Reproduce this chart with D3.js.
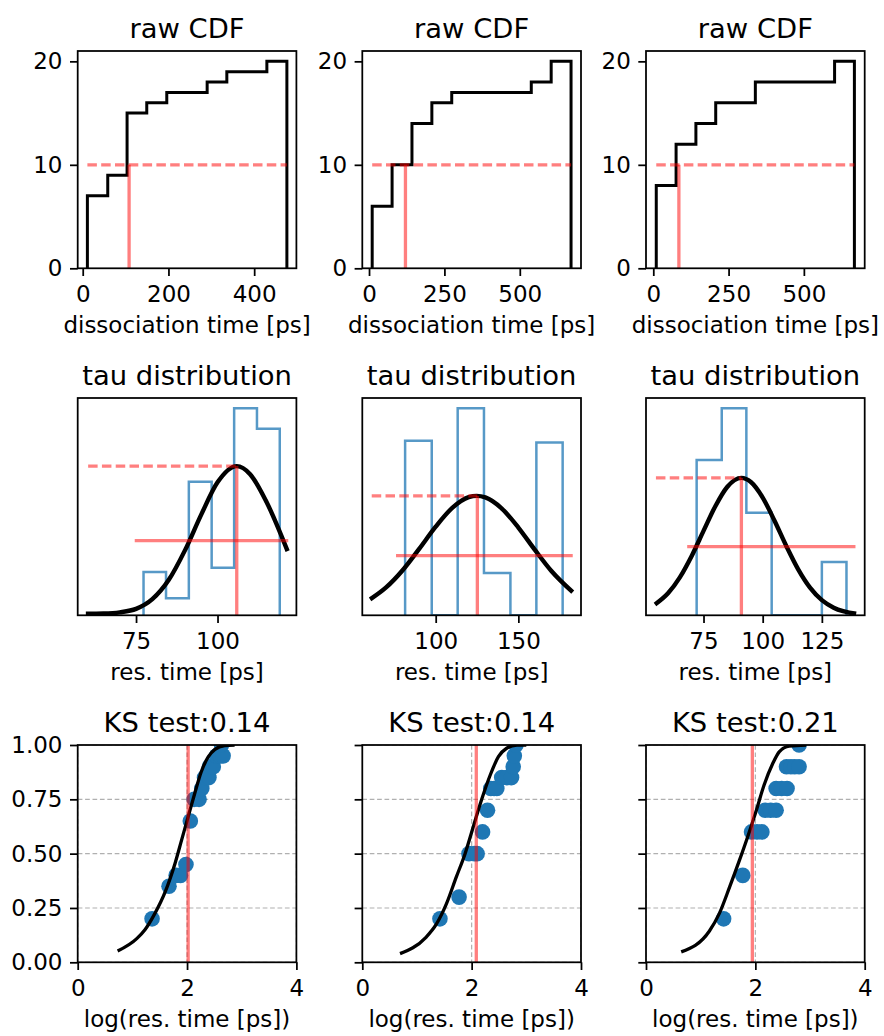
<!DOCTYPE html>
<html>
<head>
<meta charset="utf-8">
<script src="https://cdn.jsdelivr.net/npm/d3@7"></script>
<style>
  body { margin: 0; background: #fff; }
  svg { display: block; font-family: "DejaVu Sans", sans-serif; }
</style>
</head>
<body>
<svg id="chart" width="884" height="1036"></svg>
<script>
// ---- row 1: raw CDF (cumulative step histograms) ----
const cdfEdges = [
  [10.9, 58.4, 103.5, 149.4, 196.1, 242.8, 290.3, 336.2, 382.9, 429.6, 476.3],
  [10.5, 76.5, 142.4, 208.4, 274.3, 340.3, 406.2, 472.2, 538.1, 604.1, 670.0],
  [9.9, 75.7, 141.5, 207.3, 273.1, 338.9, 404.6, 470.4, 536.2, 602.0, 667.8]
];
const cdfCounts = [
  [7, 9, 15, 16, 17, 17, 18, 19, 19, 20],
  [6, 10, 14, 16, 17, 17, 17, 17, 18, 20],
  [8, 12, 14, 16, 16, 18, 18, 18, 18, 20]
];
const cdfMedian = [108.2, 120.8, 85.0];
const cdfHalf = 10;
const cdfXDomain = [[-11.7, 498.5], [-22.3, 703], [-24.2, 702]];
const cdfXTicks = [[0, 200, 400], [0, 250, 500], [0, 250, 500]];
const cdfYTicks = [0, 10, 20];

// ---- row 2: tau distribution (heights relative to fitted peak) ----
const tauEdges = [
  [77.3, 84.2, 91.2, 98.2, 105.1, 112.1, 119.1],
  [81.5, 97.6, 113.3, 129.2, 145.2, 160.9, 176.8],
  [72.1, 82.7, 93.1, 103.8, 114.3, 125.0, 135.4]
];
const tauHeights = [
  [0.291, 0.114, 0.895, 0.318, 1.387, 1.251],
  [1.462, 0, 1.733, 0.354, 0, 1.446],
  [1.131, 1.506, 0.746, 0, 0, 0.387]
];
const tauCurveX = [
  [59.6, 65, 70, 75, 80, 85, 90, 95, 100, 105.9, 110, 115, 121.5],
  [60.3, 70, 80, 90, 100, 110, 120, 124.8, 130, 140, 150, 160, 170, 182.9],
  [54.5, 60, 65, 70, 75, 80, 85, 91, 95, 100, 105, 110, 115, 120, 125, 130, 139.5]
];
const tauCurveY = [
  [0.01, 0.012, 0.02, 0.043, 0.108, 0.236, 0.435, 0.675, 0.891, 1.0, 0.946, 0.761, 0.43],
  [0.133, 0.233, 0.377, 0.556, 0.742, 0.899, 0.989, 1.0, 0.987, 0.894, 0.735, 0.548, 0.371, 0.194],
  [0.079, 0.16, 0.276, 0.432, 0.614, 0.794, 0.934, 1.0, 0.97, 0.857, 0.688, 0.503, 0.334, 0.201, 0.11, 0.055, 0.011]
];
const tauMean = [105.9, 125.2, 91.0];
const tauPeak = [1.0, 1.0, 1.0];
const tauDashStart = [60.3, 61.3, 54.9];
const tauHalfLine = [[74.6, 121.7], [76.0, 182.9], [68.1, 139.2]];
const tauHalfY = [0.5, 0.5, 0.5];
const tauXDomain = [[57.1, 124.2], [55.6, 187.9], [50.7, 143.1]];
const tauXTicks = [[75, 100], [100, 150], [75, 100, 125]];

// ---- row 3: KS test (empirical vs fitted CDF) ----
const ksTitles = ['KS test:0.14', 'KS test:0.14', 'KS test:0.21'];
const ksPointsX = [
  [1.36, 1.67, 1.80, 1.88, 1.98, 2.06, 2.13, 2.22, 2.27, 2.32, 2.40, 2.41, 2.48, 2.54, 2.61, 2.66, 2.63],
  [1.42, 1.77, 1.95, 2.05, 2.10, 2.20, 2.29, 2.35, 2.41, 2.46, 2.55, 2.64, 2.73, 2.76, 2.78, 2.81],
  [1.42, 1.77, 1.93, 2.03, 2.12, 2.18, 2.28, 2.38, 2.38, 2.48, 2.58, 2.57, 2.65, 2.72, 2.80, 2.80]
];
const ksPointsY = [
  [0.20, 0.35, 0.40, 0.40, 0.45, 0.65, 0.75, 0.75, 0.80, 0.85, 0.85, 0.90, 0.90, 0.95, 0.95, 0.95, 1.00],
  [0.20, 0.30, 0.50, 0.50, 0.50, 0.60, 0.70, 0.80, 0.80, 0.80, 0.85, 0.85, 0.85, 0.90, 0.95, 1.00],
  [0.20, 0.40, 0.60, 0.60, 0.60, 0.70, 0.70, 0.70, 0.80, 0.80, 0.80, 0.90, 0.90, 0.90, 0.90, 1.00]
];
const ksCurveX = [
  [0.73, 1.08, 1.23, 1.41, 1.60, 1.78, 1.90, 2.02, 2.14, 2.26, 2.39, 2.51, 2.69, 2.87],
  [0.69, 1.16, 1.36, 1.54, 1.72, 1.88, 2.03, 2.18, 2.34, 2.49, 2.64, 2.83, 3.0],
  [0.644, 1.16, 1.34, 1.53, 1.71, 1.86, 2.01, 2.16, 2.32, 2.44, 2.62, 2.93]
];
const ksCurveY = [
  [0.052, 0.109, 0.15, 0.224, 0.324, 0.455, 0.562, 0.67, 0.777, 0.877, 0.946, 0.98, 0.997, 1.0],
  [0.04, 0.114, 0.178, 0.27, 0.393, 0.5, 0.624, 0.747, 0.862, 0.946, 0.985, 1.0, 1.0],
  [0.048, 0.144, 0.224, 0.347, 0.47, 0.578, 0.693, 0.816, 0.916, 0.97, 0.995, 1.0]
];
const ksRed = [2.02, 2.085, 1.945];
const ksXTicks = [0, 2, 4];
const ksYTicks = [0, 0.25, 0.5, 0.75, 1];

// layout (matplotlib-like 3x3 grid)
const colX = [77.7, 362.3, 646];
const rowTop = [51, 398, 745];
const axW = 218.7, axH = 217.3;
const FONT = 23, TITLE_FONT = 27.4, LW = 1.76;
const RED = 'red', BLUE = '#1f77b4';

const svg = d3.select('#chart');
svg.append('rect').attr('width', 884).attr('height', 1036).attr('fill', '#fff');

function makePanel(row, col, xDomain, yDomain) {
  const id = `clip-${row}-${col}`;
  const x = d3.scaleLinear().domain(xDomain).range([0, axW]);
  const y = d3.scaleLinear().domain(yDomain).range([axH, 0]);
  const g = svg.append('g').attr('transform', `translate(${colX[col]},${rowTop[row]})`);
  g.append('clipPath').attr('id', id).append('rect').attr('width', axW).attr('height', axH);
  const plot = g.append('g').attr('clip-path', `url(#${id})`);
  return { g, plot, x, y };
}

function styleAxis(ax) {
  ax.attr('font-family', '"DejaVu Sans", sans-serif');
  ax.select('.domain').remove();
  ax.selectAll('line').attr('stroke', '#000').attr('stroke-width', LW);
  ax.selectAll('text').attr('font-size', FONT).attr('fill', '#000');
}

function xAxis(p, ticks, fmt, label) {
  const ax = p.g.append('g').attr('transform', `translate(0,${axH})`)
    .call(d3.axisBottom(p.x).tickValues(ticks).tickSize(7.7).tickPadding(9.7).tickFormat(fmt));
  styleAxis(ax);
  p.g.append('text')
    .attr('x', axW / 2).attr('y', axH + 65)
    .attr('text-anchor', 'middle').attr('font-size', FONT)
    .text(label);
}

function yAxis(p, ticks, fmt) {
  const ax = p.g.append('g')
    .call(d3.axisLeft(p.y).tickValues(ticks).tickSize(7.7).tickPadding(7.5).tickFormat(fmt));
  styleAxis(ax);
}

function frame(p, title) {
  p.g.append('rect').attr('width', axW).attr('height', axH)
    .attr('fill', 'none').attr('stroke', '#000').attr('stroke-width', LW);
  p.g.append('text')
    .attr('x', axW / 2).attr('y', -13)
    .attr('text-anchor', 'middle').attr('font-size', TITLE_FONT)
    .text(title);
}

// step outline like matplotlib histtype='step'
function stepPoints(edges, heights) {
  const pts = [[edges[0], 0]];
  heights.forEach((h, i) => { pts.push([edges[i], h]); pts.push([edges[i + 1], h]); });
  pts.push([edges[edges.length - 1], 0]);
  return pts;
}

const intFmt = d3.format('d');

// row 1
for (let c = 0; c < 3; c++) {
  const p = makePanel(0, c, cdfXDomain[c], [0, 21]);
  const line = d3.line().x(d => p.x(d[0])).y(d => p.y(d[1]));
  p.plot.append('path')
    .attr('d', line(stepPoints(cdfEdges[c], cdfCounts[c])))
    .attr('fill', 'none').attr('stroke', '#000').attr('stroke-width', 3)
    .attr('stroke-linejoin', 'miter');
  const e = cdfEdges[c];
  p.plot.append('line')
    .attr('x1', p.x(e[0])).attr('x2', p.x(e[e.length - 1]))
    .attr('y1', p.y(cdfHalf)).attr('y2', p.y(cdfHalf))
    .attr('stroke', RED).attr('stroke-opacity', 0.5).attr('stroke-width', 3.3)
    .attr('stroke-dasharray', '9.5,4.3');
  p.plot.append('line')
    .attr('x1', p.x(cdfMedian[c])).attr('x2', p.x(cdfMedian[c]))
    .attr('y1', p.y(0)).attr('y2', p.y(cdfHalf))
    .attr('stroke', RED).attr('stroke-opacity', 0.5).attr('stroke-width', 3.3);
  xAxis(p, cdfXTicks[c], intFmt, 'dissociation time [ps]');
  yAxis(p, cdfYTicks, intFmt);
  frame(p, 'raw CDF');
}

// row 2
for (let c = 0; c < 3; c++) {
  const yMax = d3.max(tauHeights[c]) * 1.05;
  const p = makePanel(1, c, tauXDomain[c], [0, yMax]);
  const line = d3.line().x(d => p.x(d[0])).y(d => p.y(d[1]));
  p.plot.append('path')
    .attr('d', line(stepPoints(tauEdges[c], tauHeights[c])))
    .attr('fill', 'none').attr('stroke', BLUE).attr('stroke-opacity', 0.75)
    .attr('stroke-width', 2.5);
  const curve = d3.line().x(d => p.x(d[0])).y(d => p.y(d[1])).curve(d3.curveMonotoneX);
  p.plot.append('path')
    .attr('d', curve(d3.zip(tauCurveX[c], tauCurveY[c])))
    .attr('fill', 'none').attr('stroke', '#000').attr('stroke-width', 4.4);
  p.plot.append('line')
    .attr('x1', p.x(tauDashStart[c])).attr('x2', p.x(tauMean[c]))
    .attr('y1', p.y(tauPeak[c])).attr('y2', p.y(tauPeak[c]))
    .attr('stroke', RED).attr('stroke-opacity', 0.5).attr('stroke-width', 3.3)
    .attr('stroke-dasharray', '9.5,4.3');
  p.plot.append('line')
    .attr('x1', p.x(tauMean[c])).attr('x2', p.x(tauMean[c]))
    .attr('y1', p.y(0)).attr('y2', p.y(tauPeak[c]))
    .attr('stroke', RED).attr('stroke-opacity', 0.5).attr('stroke-width', 3.3);
  p.plot.append('line')
    .attr('x1', p.x(tauHalfLine[c][0])).attr('x2', p.x(tauHalfLine[c][1]))
    .attr('y1', p.y(tauHalfY[c])).attr('y2', p.y(tauHalfY[c]))
    .attr('stroke', RED).attr('stroke-opacity', 0.5).attr('stroke-width', 3.3);
  xAxis(p, tauXTicks[c], intFmt, 'res. time [ps]');
  frame(p, 'tau distribution');
}

// row 3
for (let c = 0; c < 3; c++) {
  const p = makePanel(2, c, [0, 4], [0, 1]);
  // dashed grid
  p.plot.selectAll('.gy').data(ksYTicks).enter().append('line')
    .attr('x1', 0).attr('x2', axW).attr('y1', d => p.y(d)).attr('y2', d => p.y(d))
    .attr('stroke', '#b0b0b0').attr('stroke-width', 1.2).attr('stroke-dasharray', '4.7,2.7');
  p.plot.selectAll('.gx').data(ksXTicks).enter().append('line')
    .attr('y1', 0).attr('y2', axH).attr('x1', d => p.x(d)).attr('x2', d => p.x(d))
    .attr('stroke', '#b0b0b0').attr('stroke-width', 1.2).attr('stroke-dasharray', '4.7,2.7');
  p.plot.selectAll('circle').data(d3.zip(ksPointsX[c], ksPointsY[c])).enter().append('circle')
    .attr('cx', d => p.x(d[0])).attr('cy', d => p.y(d[1])).attr('r', 7.8)
    .attr('fill', BLUE);
  const curve = d3.line().x(d => p.x(d[0])).y(d => p.y(d[1])).curve(d3.curveMonotoneX);
  p.plot.append('path')
    .attr('d', curve(d3.zip(ksCurveX[c], ksCurveY[c])))
    .attr('fill', 'none').attr('stroke', '#000').attr('stroke-width', 3.3);
  p.plot.append('line')
    .attr('x1', p.x(ksRed[c])).attr('x2', p.x(ksRed[c]))
    .attr('y1', 0).attr('y2', axH)
    .attr('stroke', RED).attr('stroke-opacity', 0.5).attr('stroke-width', 3.3);
  xAxis(p, ksXTicks, intFmt, 'log(res. time [ps])');
  yAxis(p, ksYTicks, c === 0 ? d3.format('.2f') : () => '');
  frame(p, ksTitles[c]);
}
</script>
</body>
</html>
